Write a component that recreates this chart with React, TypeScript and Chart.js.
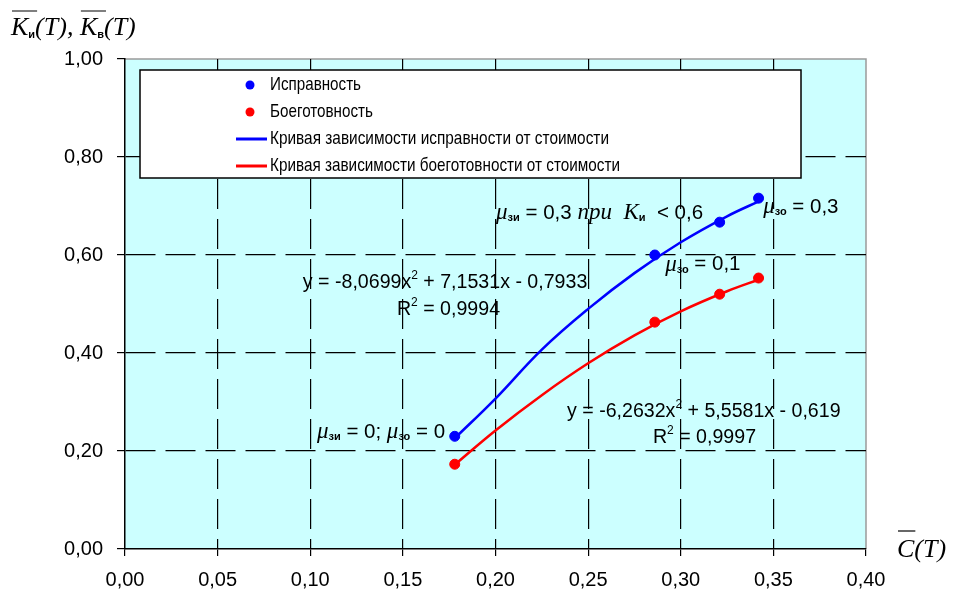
import React, { useEffect, useRef } from 'react';
import { Chart, registerables } from 'chart.js';

Chart.register(...registerables);

// ---- data ----
const pointCost = [0.178, 0.286, 0.321, 0.342];
const serviceability = [0.23, 0.6, 0.667, 0.716];
const readiness = [0.173, 0.463, 0.52, 0.553];

const curveCost = [0.178, 0.2, 0.225, 0.25, 0.275, 0.3, 0.325, 0.343];
const serviceabilityCurve = [0.226, 0.307, 0.407, 0.49, 0.563, 0.626, 0.679, 0.711];
const readinessCurve = [0.172, 0.242, 0.314, 0.379, 0.436, 0.485, 0.526, 0.551];

const seriesLabels = [
  'Исправность',
  'Боеготовность',
  'Кривая зависимости исправности от стоимости',
  'Кривая зависимости боеготовности от стоимости',
];

const xMin = 0;
const xMax = 0.4;
const xStep = 0.05;
const yMin = 0;
const yMax = 1;
const yStep = 0.2;

const SANS = '"Liberation Sans", Arial, sans-serif';
const SERIF = '"Liberation Serif", "Times New Roman", serif';

const BLUE = '#0000FF';
const RED = '#FF0000';

type Seg = { t: string; f: string; dy?: number };

function drawSegs(ctx: CanvasRenderingContext2D, segs: Seg[], x: number, y: number) {
  let cx = x;
  const spans: number[][] = [];
  for (const s of segs) {
    ctx.font = s.f;
    ctx.fillText(s.t, cx, y + (s.dy || 0));
    const w = ctx.measureText(s.t).width;
    spans.push([cx, cx + w]);
    cx += w;
  }
  return spans;
}

const MU = `italic 23px ${SERIF}`;
const SUB = `bold 11px ${SANS}`;
const EQ = `19.6px ${SANS}`;
const EQ2 = `20.5px ${SANS}`;
const SUP = `12px ${SANS}`;

const annotations: { x: number; y: number; segs: Seg[] }[] = [
  {
    x: 0.2003, y: 0.686,
    segs: [
      { t: 'μ', f: MU }, { t: 'зи', f: SUB, dy: 5 }, { t: ' = 0,3 ', f: EQ2 },
      { t: 'при', f: MU }, { t: '  K', f: MU }, { t: 'и', f: SUB, dy: 5 }, { t: '  < 0,6', f: EQ2 },
    ],
  },
  { x: 0.3445, y: 0.698, segs: [{ t: 'μ', f: MU }, { t: 'зо', f: SUB, dy: 5 }, { t: ' = 0,3', f: EQ2 }] },
  { x: 0.2916, y: 0.58, segs: [{ t: 'μ', f: MU }, { t: 'зо', f: SUB, dy: 5 }, { t: ' = 0,1', f: EQ2 }] },
  {
    x: 0.1036, y: 0.239,
    segs: [
      { t: 'μ', f: MU }, { t: 'зи', f: SUB, dy: 5 }, { t: ' = 0; ', f: EQ2 },
      { t: 'μ', f: MU }, { t: 'зо', f: SUB, dy: 5 }, { t: ' = 0', f: EQ2 },
    ],
  },
  {
    x: 0.096, y: 0.543,
    segs: [
      { t: 'y = -8,0699x', f: EQ }, { t: '2', f: SUP, dy: -7 }, { t: ' + 7,1531x - 0,7933', f: EQ },
    ],
  },
  { x: 0.1468, y: 0.488, segs: [{ t: 'R', f: EQ }, { t: '2', f: SUP, dy: -7 }, { t: ' = 0,9994', f: EQ }] },
  {
    x: 0.2386, y: 0.28,
    segs: [
      { t: 'y = -6,2632x', f: EQ }, { t: '2', f: SUP, dy: -7 }, { t: ' + 5,5581x - 0,619', f: EQ },
    ],
  },
  { x: 0.285, y: 0.2265, segs: [{ t: 'R', f: EQ }, { t: '2', f: SUP, dy: -7 }, { t: ' = 0,9997', f: EQ }] },
];

const fmt = (v: number | string) => Number(v).toFixed(2).replace('.', ',');

const backgroundPlugin = {
  id: 'bgPlugin',
  beforeDraw(chart: any) {
    const { ctx, chartArea: a, width, height } = chart;
    ctx.save();
    ctx.fillStyle = '#FFFFFF';
    ctx.fillRect(0, 0, width, height);
    ctx.fillStyle = '#CCFFFF';
    ctx.fillRect(a.left, a.top, a.right - a.left, a.bottom - a.top);
    ctx.strokeStyle = '#9A9A9A';
    ctx.lineWidth = 1.5;
    ctx.beginPath();
    ctx.moveTo(a.left, a.top);
    ctx.lineTo(a.right, a.top);
    ctx.lineTo(a.right, a.bottom);
    ctx.stroke();
    ctx.restore();
  },
};

// widths the legend texts take in the reference (its font is condensed)
const legendTextWidths = [91, 103, 339, 350];

const legendPlugin = {
  id: 'boxLegend',
  afterDatasetsDraw(chart: any) {
    const { ctx, chartArea: a } = chart;
    const left = a.left + 15;
    const top = a.top + 11;
    const right = a.left + 676;
    const bottom = a.top + 119;
    ctx.save();
    ctx.fillStyle = '#FFFFFF';
    ctx.fillRect(left, top, right - left, bottom - top);
    ctx.strokeStyle = '#000';
    ctx.lineWidth = 1.5;
    ctx.strokeRect(left, top, right - left, bottom - top);
    const rowH = 27;
    const markX = left + 110;
    const textX = left + 130;
    chart.data.datasets.forEach((ds: any, i: number) => {
      const cy = top + 15 + i * rowH;
      if (ds.showLine) {
        ctx.strokeStyle = ds.borderColor;
        ctx.lineWidth = 3;
        ctx.beginPath();
        ctx.moveTo(left + 96, cy);
        ctx.lineTo(left + 127, cy);
        ctx.stroke();
      } else {
        ctx.fillStyle = ds.backgroundColor;
        ctx.beginPath();
        ctx.arc(markX, cy, 4.5, 0, Math.PI * 2);
        ctx.fill();
      }
      ctx.fillStyle = '#000';
      ctx.font = `19px ${SANS}`;
      ctx.textBaseline = 'middle';
      ctx.textAlign = 'left';
      ctx.fillText(ds.label, textX, cy, legendTextWidths[i]);
    });
    ctx.restore();
  },
};

const textPlugin = {
  id: 'texts',
  afterDraw(chart: any) {
    const { ctx, scales } = chart;
    ctx.save();
    ctx.fillStyle = '#000';
    ctx.textBaseline = 'middle';
    ctx.textAlign = 'left';
    for (const an of annotations) {
      const px = scales.x.getPixelForValue(an.x);
      const py = scales.y.getPixelForValue(an.y);
      drawSegs(ctx, an.segs, px, py);
    }
    // axis titles
    const TT = `italic 26px ${SERIF}`;
    const TS = `bold 11px ${SANS}`;
    const sp = drawSegs(ctx, [
      { t: 'K', f: TT }, { t: 'и', f: TS, dy: 7 }, { t: '(T), ', f: TT },
      { t: 'K', f: TT }, { t: 'в', f: TS, dy: 7 }, { t: '(T)', f: TT },
    ], 11, 28);
    ctx.strokeStyle = '#000';
    ctx.lineWidth = 1.2;
    ctx.beginPath();
    ctx.moveTo(sp[0][0] + 1, 11); ctx.lineTo(sp[1][1] + 2, 11);
    ctx.moveTo(sp[3][0] + 1, 11); ctx.lineTo(sp[4][1] + 2, 11);
    ctx.stroke();
    const sp2 = drawSegs(ctx, [{ t: 'C', f: TT }, { t: '(T)', f: TT }], 897, 550);
    ctx.beginPath();
    ctx.moveTo(sp2[0][0] + 1, 531); ctx.lineTo(sp2[0][1] + 1, 531);
    ctx.stroke();
    ctx.restore();
  },
};

const gridColor = (max: number) => (c: any) => {
  const v = c.tick ? c.tick.value : null;
  if (v === null) return '#000';
  if (Math.abs(v) < 1e-9 || Math.abs(v - max) < 1e-9) return 'rgba(0,0,0,0)';
  return '#000';
};

export default function App() {
  const ref = useRef<HTMLCanvasElement | null>(null);
  useEffect(() => {
    if (!ref.current) return;
    const chart = new Chart(ref.current, {
      type: 'scatter',
      data: {
        datasets: [
          {
            label: seriesLabels[0],
            data: pointCost.map((x, i) => ({ x, y: serviceability[i] })),
            showLine: false,
            pointRadius: 5,
            pointBackgroundColor: BLUE,
            pointBorderColor: BLUE,
            backgroundColor: BLUE,
            borderColor: BLUE,
          },
          {
            label: seriesLabels[1],
            data: pointCost.map((x, i) => ({ x, y: readiness[i] })),
            showLine: false,
            pointRadius: 5,
            pointBackgroundColor: RED,
            pointBorderColor: RED,
            backgroundColor: RED,
            borderColor: RED,
          },
          {
            label: seriesLabels[2],
            data: curveCost.map((x, i) => ({ x, y: serviceabilityCurve[i] })),
            showLine: true,
            pointRadius: 0,
            borderColor: BLUE,
            backgroundColor: BLUE,
            borderWidth: 2.5,
            tension: 0.4,
          },
          {
            label: seriesLabels[3],
            data: curveCost.map((x, i) => ({ x, y: readinessCurve[i] })),
            showLine: true,
            pointRadius: 0,
            borderColor: RED,
            backgroundColor: RED,
            borderWidth: 2.5,
            tension: 0.4,
          },
        ],
      },
      options: {
        responsive: false,
        animation: false,
        devicePixelRatio: 1,
        layout: { padding: { top: 59, right: 92, left: 0, bottom: 0 } },
        plugins: { legend: { display: false }, tooltip: { enabled: false } },
        scales: {
          x: {
            type: 'linear',
            min: xMin,
            max: xMax,
            afterFit: (s: any) => { s.height = 44; },
            ticks: {
              stepSize: xStep,
              autoSkip: false,
              maxRotation: 0,
              color: '#000',
              padding: 12,
              font: { family: SANS, size: 20 },
              callback: (v: any) => fmt(v),
            },
            grid: { color: gridColor(xMax), tickColor: '#000', tickLength: 7, lineWidth: 1.2 },
            border: { color: '#000', width: 1.5, dash: [30, 10] },
          },
          y: {
            type: 'linear',
            min: yMin,
            max: yMax,
            afterFit: (s: any) => { s.width = 125; },
            ticks: {
              stepSize: yStep,
              color: '#000',
              padding: 14,
              font: { family: SANS, size: 20 },
              callback: (v: any) => fmt(v),
            },
            grid: { color: gridColor(yMax), tickColor: '#000', tickLength: 8, lineWidth: 1.2 },
            border: { color: '#000', width: 1.5, dash: [30, 10] },
          },
        },
      },
      plugins: [backgroundPlugin, legendPlugin, textPlugin],
    } as any);
    return () => chart.destroy();
  }, []);
  return (
    <div style={{ position: 'absolute', left: 0, top: 0, width: 958, height: 593 }}>
      <canvas ref={ref} width={958} height={593} style={{ width: 958, height: 593 }} />
    </div>
  );
}
